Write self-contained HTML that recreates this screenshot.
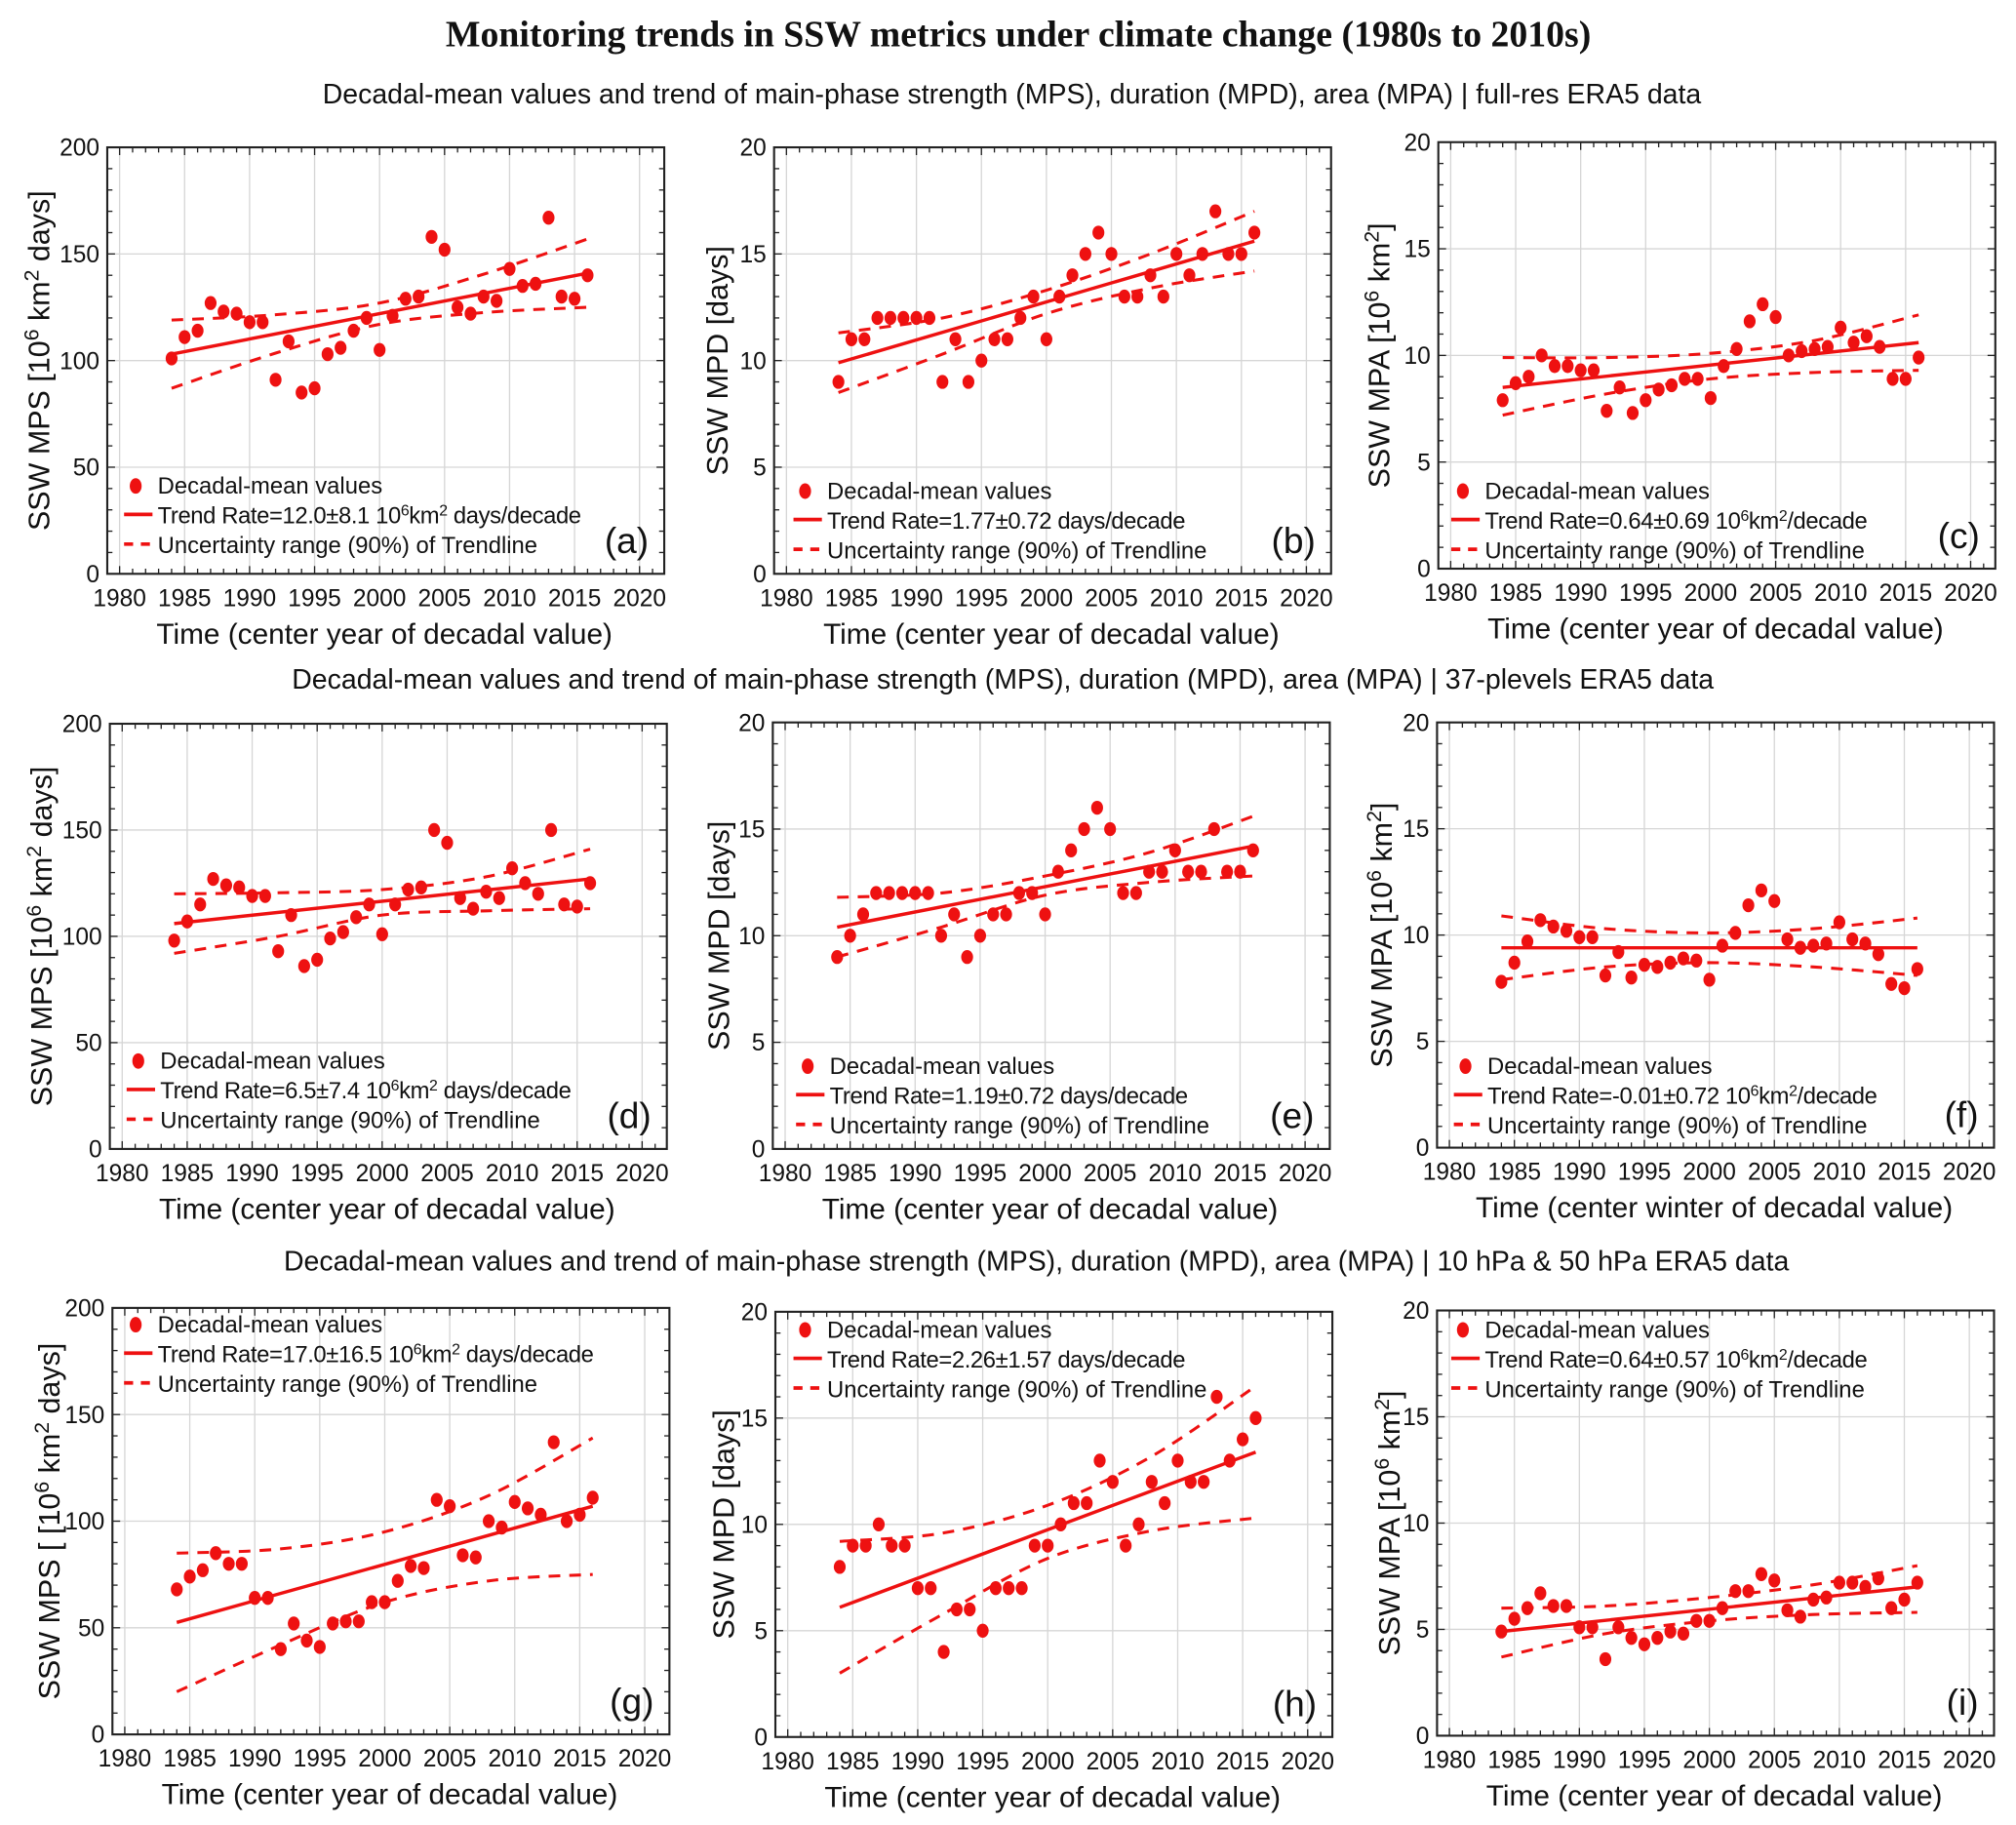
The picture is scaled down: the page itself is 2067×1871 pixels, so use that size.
<!DOCTYPE html>
<html><head><meta charset="utf-8">
<style>
html,body{margin:0;padding:0;background:#fff;}
svg{display:block;}
text{font-family:"Liberation Sans",Arial,sans-serif;fill:#111;}
</style></head>
<body>
<svg id="fig" xmlns="http://www.w3.org/2000/svg" width="2067" height="1871" viewBox="0 0 1560 1412.1" preserveAspectRatio="none">
<rect width="1560" height="1412.1" fill="#fff"/>
<text x="788" y="36" text-anchor="middle" style="font-family:'Liberation Serif',serif;font-weight:bold;font-size:28.5px">Monitoring trends in SSW metrics under climate change (1980s to 2010s)</text>
<text x="783" y="80" text-anchor="middle" font-size="21.5">Decadal-mean values and trend of main-phase strength (MPS), duration (MPD), area (MPA) | full-res ERA5 data</text>
<text x="776" y="533" text-anchor="middle" font-size="21.5">Decadal-mean values and trend of main-phase strength (MPS), duration (MPD), area (MPA) | 37-plevels ERA5 data</text>
<text x="802" y="983" text-anchor="middle" font-size="21.5">Decadal-mean values and trend of main-phase strength (MPS), duration (MPD), area (MPA) | 10 hPa &amp; 50 hPa ERA5 data</text>
</svg>
<script>
const years = [1984,1985,1986,1987,1988,1989,1990,1991,1992,1993,1994,1995,1996,1997,1998,1999,2000,2001,2002,2003,2004,2005,2006,2007,2008,2009,2010,2011,2012,2013,2014,2015,2016];
const bandYears = [1984,1992,2000,2008,2016];
const xTicks = [1980,1985,1990,1995,2000,2005,2010,2015,2020];
const ticksMPS = [0,50,100,150,200];
const ticksDays = [0,5,10,15,20];

const valsA = [101,111,114,127,123,122,118,118,91,109,85,87,103,106,114,120,105,121,129,130,158,152,125,122,130,128,143,135,136,167,130,129,140];
const trendA = [103,141];
const upA = [119,121.5,127,140.5,157];
const loA = [87,103.5,117,122.5,125];

const valsB = [9,11,11,12,12,12,12,12,9,11,9,10,11,11,12,13,11,13,14,15,16,15,13,13,14,13,15,14,15,17,15,15,16];
const trendB = [9.9,15.6];
const upB = [11.3,12.0,13.3,15.0,17.0];
const loB = [8.5,10.3,12.2,13.4,14.2];

const valsC = [7.9,8.7,9.0,10.0,9.5,9.5,9.3,9.3,7.4,8.5,7.3,7.9,8.4,8.6,8.9,8.9,8.0,9.5,10.3,11.6,12.4,11.8,10.0,10.2,10.3,10.4,11.3,10.6,10.9,10.4,8.9,8.9,9.9];
const trendC = [8.5,10.6];
const upC = [9.9,9.9,10.1,10.7,11.9];
const loC = [7.2,8.2,8.9,9.2,9.3];

const valsD = [98,107,115,127,124,123,119,119,93,110,86,89,99,102,109,115,101,115,122,123,150,144,118,113,121,118,132,125,120,150,115,114,125];
const trendD = [106,127];
const upD = [120,120.5,122,128,141];
const loD = [92,100,110,112,113];

const valsE = [9,10,11,12,12,12,12,12,10,11,9,10,11,11,12,12,11,13,14,15,16,15,12,12,13,13,14,13,13,15,13,13,14];
const trendE = [10.4,14.2];
const upE = [11.8,12.0,12.8,13.9,15.6];
const loE = [9.0,10.4,11.9,12.5,12.8];

const valsF = [7.8,8.7,9.7,10.7,10.4,10.2,9.9,9.9,8.1,9.2,8.0,8.6,8.5,8.7,8.9,8.8,7.9,9.5,10.1,11.4,12.1,11.6,9.8,9.4,9.5,9.6,10.6,9.8,9.6,9.1,7.7,7.5,8.4];
const trendF = [9.4,9.4];
const upF = [10.9,10.3,10.1,10.3,10.8];
const loF = [7.9,8.5,8.7,8.5,8.1];

const valsG = [68,74,77,85,80,80,64,64,40,52,44,41,52,53,53,62,62,72,79,78,110,107,84,83,100,97,109,106,103,137,100,103,111];
const trendG = [52.5,107];
const upG = [85,87,95,112,139];
const loG = [20,42,62,72,75];

const valsH = [8,9,9,10,9,9,7,7,4,6,6,5,7,7,7,9,9,10,11,11,13,12,9,10,12,11,13,12,12,16,13,14,15];
const trendH = [6.1,13.4];
const upH = [9.2,9.6,10.9,13.2,16.5];
const loH = [3.0,5.8,8.4,9.7,10.3];

const valsI = [4.9,5.5,6.0,6.7,6.1,6.1,5.1,5.1,3.6,5.1,4.6,4.3,4.6,4.9,4.8,5.4,5.4,6.0,6.8,6.8,7.6,7.3,5.9,5.6,6.4,6.5,7.2,7.2,7.0,7.4,6.0,6.4,7.2];
const trendI = [4.9,7.0];
const upI = [6.0,6.1,6.5,7.1,8.0];
const loI = [3.7,4.8,5.4,5.7,5.8];

const NS='http://www.w3.org/2000/svg';
const svg=document.getElementById('fig');
function mk(tag,attrs,parent){const e=document.createElementNS(NS,tag);for(const k in attrs)e.setAttribute(k,attrs[k]);(parent||svg).appendChild(e);return e;}
function smoothPath(pts){
 let d='M'+pts[0][0]+','+pts[0][1];
 for(let i=0;i<pts.length-1;i++){
  const p0=pts[i-1]||pts[i],p1=pts[i],p2=pts[i+1],p3=pts[i+2]||p2;
  const c1=[p1[0]+(p2[0]-p0[0])/6,p1[1]+(p2[1]-p0[1])/6];
  const c2=[p2[0]-(p3[0]-p1[0])/6,p2[1]-(p3[1]-p1[1])/6];
  d+=' C'+c1[0]+','+c1[1]+' '+c2[0]+','+c2[1]+' '+p2[0]+','+p2[1];
 }
 return d;
}

const unitMPS = ['SSW MPS [10','6',' km','2',' days]'];
const unitMPD = ['SSW MPD [days]'];
const unitMPA = ['SSW MPA [10','6',' km','2',']'];
const panels = [
 {id:'a',L:83,T:114,B:444,ymax:200,yt:ticksMPS,v:valsA,tr:trendA,up:upA,lo:loA,lab:unitMPS,lx:30,leg:[122,376],rate:'12.0±8.1 ',mps:true,xl:'Time (center year of decadal value)'},
 {id:'b',L:599,T:114,B:444,ymax:20,yt:ticksDays,v:valsB,tr:trendB,up:upB,lo:loB,lab:unitMPD,lx:555,leg:[640,380],rate:'1.77±0.72',mpd:true,xl:'Time (center year of decadal value)'},
 {id:'c',L:1113,T:110,B:440,ymax:20,yt:ticksDays,v:valsC,tr:trendC,up:upC,lo:loC,lab:unitMPA,lx:1067,leg:[1149,380],rate:'0.64±0.69 ',xl:'Time (center year of decadal value)'},
 {id:'d',L:85,T:560,B:889,ymax:200,yt:ticksMPS,v:valsD,tr:trendD,up:upD,lo:loD,lab:unitMPS,lx:32,leg:[124,821],rate:'6.5±7.4 ',mps:true,xl:'Time (center year of decadal value)'},
 {id:'e',L:598,T:559,B:889,ymax:20,yt:ticksDays,v:valsE,tr:trendE,up:upE,lo:loE,lab:unitMPD,lx:556,leg:[642,825],rate:'1.19±0.72',mpd:true,xl:'Time (center year of decadal value)'},
 {id:'f',L:1112,T:559,B:888,ymax:20,yt:ticksDays,v:valsF,tr:trendF,up:upF,lo:loF,lab:unitMPA,lx:1069,leg:[1151,825],rate:'-0.01±0.72 ',xl:'Time (center winter of decadal value)'},
 {id:'g',L:87,T:1012,B:1342,ymax:200,yt:ticksMPS,v:valsG,tr:trendG,up:upG,lo:loG,lab:['SSW MPS [ [10','6',' km','2',' days]'],lx:38,leg:[122,1025],rate:'17.0±16.5 ',mps:true,xl:'Time (center year of decadal value)'},
 {id:'h',L:600,T:1015,B:1344,ymax:20,yt:ticksDays,v:valsH,tr:trendH,up:upH,lo:loH,lab:unitMPD,lx:560,leg:[640,1029],rate:'2.26±1.57',mpd:true,xl:'Time (center year of decadal value)'},
 {id:'i',L:1112,T:1014,B:1343,ymax:20,yt:ticksDays,v:valsI,tr:trendI,up:upI,lo:loI,lab:unitMPA,lx:1075,leg:[1149,1029],rate:'0.64±0.57 ',xl:'Time (center year of decadal value)'}
];
const W=431, XMIN=1979.05, XMAX=2021.9, RED='#ee1111';

panels.forEach(p=>{
 const g=mk('g',{});
 
 
 const X=yr=>p.L+(yr-XMIN)/(XMAX-XMIN)*W;
 const Y=v=>p.B-v/p.ymax*(p.B-p.T);
 xTicks.forEach(t=>{const l=mk('line',{x1:X(t),x2:X(t),y1:p.T,y2:p.B,stroke:'#d6d6d6','stroke-width':1},g);});
 p.yt.forEach(t=>{if(t>0&&t<p.ymax){const l=mk('line',{x1:p.L,x2:p.L+W,y1:Y(t),y2:Y(t),stroke:'#d6d6d6','stroke-width':1},g);}});
 for(let yr=1980;yr<=2021;yr++){const len=(yr%5===0)?6:4;mk('line',{x1:X(yr),x2:X(yr),y1:p.B,y2:p.B-len,stroke:'#222','stroke-width':1},g);mk('line',{x1:X(yr),x2:X(yr),y1:p.T,y2:p.T+len,stroke:'#222','stroke-width':1},g);}
 const ystep=p.ymax/20;
 for(let k=1;k<20;k++){const yy=Y(k*ystep);const len=(k%5===0)?6:4;mk('line',{x1:p.L,x2:p.L+len,y1:yy,y2:yy,stroke:'#222','stroke-width':1},g);mk('line',{x1:p.L+W,x2:p.L+W-len,y1:yy,y2:yy,stroke:'#222','stroke-width':1},g);}
 const box=mk('rect',{x:p.L,y:p.T,width:W,height:p.B-p.T,fill:'none',stroke:'#222','stroke-width':1.6},g);
 
 
 xTicks.forEach(t=>{const tx=mk('text',{x:X(t),y:p.B+25,'text-anchor':'middle','font-size':18.5},g);tx.textContent=t;});
 p.yt.forEach(t=>{const tx=mk('text',{x:p.L-6,y:Y(t)+6.5,'text-anchor':'end','font-size':18.5},g);tx.textContent=t;});
 const xt=mk('text',{x:p.L+W/2-1,y:p.B+54,'text-anchor':'middle','font-size':22.5},g);
 xt.textContent=p.xl;
 
 
 const cy=(p.T+p.B)/2;
 const yt=mk('text',{x:p.lx,y:cy,'text-anchor':'middle','font-size':23,transform:'rotate(-90 '+p.lx+' '+cy+')',dy:8},g);
 
 
 p.lab.forEach((s,i)=>{const ts=mk('tspan',(i%2===1)?{'baseline-shift':'super','font-size':16}:{},yt);ts.textContent=s;});
 ['up','lo'].forEach(k=>{const pts=bandYears.map((yr,i)=>[X(yr),Y(p[k][i])]);const pl=mk('path',{d:smoothPath(pts),fill:'none',stroke:RED,'stroke-width':2.3,'stroke-dasharray':'9 7'},g);});
 const tl=mk('line',{x1:X(years[0]),y1:Y(p.tr[0]),x2:X(years[years.length-1]),y2:Y(p.tr[1]),stroke:RED,'stroke-width':2.6},g);
 
 
 years.forEach((yr,i)=>{const c=mk('ellipse',{cx:X(yr),cy:Y(p.v[i]),rx:4.6,ry:5.4,fill:RED},g);});
 const lg=mk('g',{},g);
 
 
 const [tx0,ty0]=p.leg;
 mk('ellipse',{cx:tx0-17,cy:ty0,rx:4.6,ry:6,fill:RED},lg);
 mk('line',{x1:tx0-26,x2:tx0-4,y1:ty0+22,y2:ty0+22,stroke:RED,'stroke-width':2.8},lg);
 mk('line',{x1:tx0-26,x2:tx0-2,y1:ty0+45,y2:ty0+45,stroke:RED,'stroke-width':2.8,'stroke-dasharray':'7 6'},lg);
 const t1=mk('text',{x:tx0,y:ty0+6,'font-size':18},lg);t1.textContent='Decadal-mean values';
 const t2=mk('text',{x:tx0,y:ty0+29,'font-size':18,'letter-spacing':'-0.3'},lg);
 const sp=(s,sup)=>{const ts=mk('tspan',sup?{'baseline-shift':'super','font-size':12}:{},t2);ts.textContent=s;};
 if(p.mpd){sp('Trend Rate='+p.rate+' days/decade');}
 else if(p.mps){sp('Trend Rate='+p.rate+'10');sp('6',1);sp('km');sp('2',1);sp(' days/decade');}
 else {sp('Trend Rate='+p.rate+'10');sp('6',1);sp('km');sp('2',1);sp('/decade');}
 const t3=mk('text',{x:tx0,y:ty0+52,'font-size':18},lg);t3.textContent='Uncertainty range (90%) of Trendline';
 const pl=mk('text',{x:p.L+W-12,y:p.B-16,'text-anchor':'end','font-size':28},g);
 pl.textContent='('+p.id+')';
 
 
});
</script>
</body></html>
